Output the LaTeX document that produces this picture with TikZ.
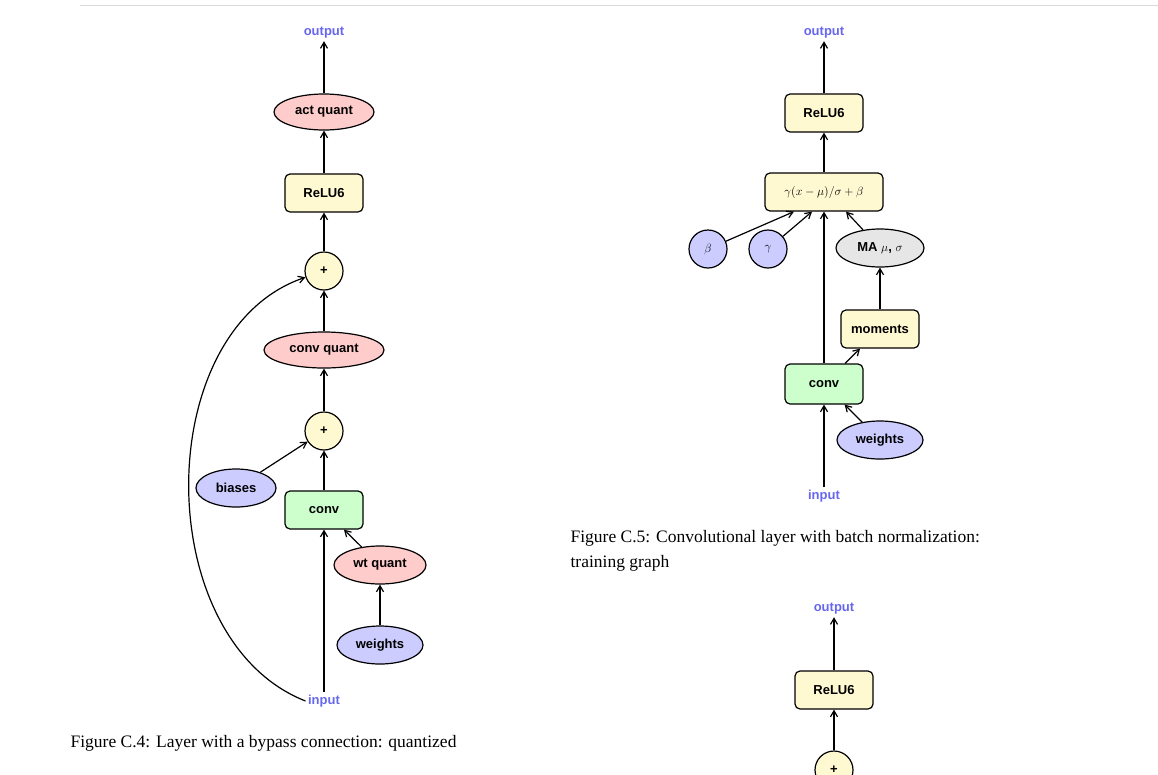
\documentclass[tikz,border=0pt]{standalone}
\usepackage{fontspec}
\setmainfont{Liberation Serif}
\newfontfamily\sansb{Liberation Sans}
\usetikzlibrary{shapes.geometric,arrows.meta}
\definecolor{cy}{HTML}{FFF9D2}
\definecolor{cr}{HTML}{FFCCCC}
\definecolor{cb}{HTML}{CCCCFF}
\definecolor{cg}{HTML}{CCFFCC}
\definecolor{cgr}{HTML}{E6E6E6}
\definecolor{lbl}{HTML}{6666EE}
\begin{document}
\begin{tikzpicture}[x=1pt,y=-1pt,
  every node/.style={font=\sansb\bfseries\fontsize{13}{15}\selectfont, line width=1.2pt},
  box/.style={draw,rounded corners=5pt,minimum width=78pt,minimum height=38pt,inner sep=2pt},
  ell/.style={draw,ellipse,minimum height=36pt,inner sep=1pt},
  circ/.style={draw,circle,fill=cy,minimum size=38pt,inner sep=0pt},
  cbl/.style={draw,circle,fill=cb,minimum size=38pt,inner sep=0pt},
  io/.style={text=lbl,inner sep=2pt},
  mth/.style={font=\fontsize{13}{15}\selectfont},
  ar/.style={-{Straight Barb[length=6pt,width=7pt]},line width=1.2pt},
  captxt/.style={font=\fontsize{17.5}{25}\selectfont,anchor=west,align=left,inner sep=0pt}]
\useasboundingbox (0,0) rectangle (1158,774);
\draw[gray!30,line width=1pt] (80,5) -- (1158,5);
% left
\node[io] (lo) at (324,33) {output};
\node[ell,fill=cr,minimum width=100pt] (laq) at (324,112) {act quant};
\node[box,fill=cy] (lr) at (324,193) {ReLU6};
\node[circ] (lp1) at (324,271) {+};
\node[ell,fill=cr,minimum width=120pt] (lcq) at (324,350) {conv quant};
\node[circ] (lp2) at (324,431) {+};
\node[ell,fill=cb,minimum width=80pt,minimum height=38pt] (lb) at (236,488) {biases};
\node[box,fill=cg] (lc) at (324,510) {conv};
\node[ell,fill=cr,minimum width=92pt,minimum height=38pt] (lwq) at (380,565) {wt quant};
\node[ell,fill=cb,minimum width=86pt,minimum height=38pt] (lw) at (380,645) {weights};
\node[io] (li) at (324,701) {input};
\draw[ar] (laq) -- (lo);
\draw[ar] (lr) -- (laq);
\draw[ar] (lp1) -- (lr);
\draw[ar] (lcq) -- (lp1);
\draw[ar] (lp2) -- (lcq);
\draw[ar] (lc) -- (lp2);
\draw[ar] (lb) -- (lp2);
\draw[ar] (lwq) -- (lc);
\draw[ar] (lw) -- (lwq);
\draw[ar] (li) -- (lc);
\draw[ar] (li.west) .. controls (150,640) and (150,330) .. (lp1);
\node[captxt] (c4) at (70,743) {Figure C.4: Layer with a bypass connection: quantized};
% right
\node[io] (ro) at (824,33) {output};
\node[box,fill=cy] (rr) at (824,113) {ReLU6};
\node[box,fill=cy,minimum width=118pt,mth] (rbn) at (824,192) {$\gamma(x-\mu)/\sigma+\beta$};
\node[cbl,mth] (rbe) at (708,249) {$\beta$};
\node[cbl,mth] (rga) at (768,249) {$\gamma$};
\node[ell,fill=cgr,minimum width=88pt,minimum height=38pt] (rma) at (880,248) {MA $\mu$, $\sigma$};
\node[box,fill=cy] (rm) at (880,329) {moments};
\node[box,fill=cg,minimum height=40pt] (rc) at (824,384) {conv};
\node[ell,fill=cb,minimum width=86pt,minimum height=38pt] (rw) at (880,440) {weights};
\node[io] (ri) at (824,496) {input};
\draw[ar] (rr) -- (ro);
\draw[ar] (rbn) -- (rr);
\draw[ar] (rbe) -- ([xshift=-30pt]rbn.south);
\draw[ar] (rga) -- ([xshift=-12pt]rbn.south);
\draw[ar] (rma) -- ([xshift=22pt]rbn.south);
\draw[ar] (rm) -- (rma);
\draw[ar] (rc) -- (rm);
\draw[ar] (rc) -- (rbn);
\draw[ar] (rw) -- (rc);
\draw[ar] (ri) -- (rc);
\node[captxt] (c5) at (570,551) {Figure C.5: Convolutional layer with batch normalization:\\training graph};
% bottom right
\node[io] (bo) at (834,609) {output};
\node[box,fill=cy] (br) at (834,690) {ReLU6};
\node[circ] (bp) at (834,770) {+};
\draw[ar] (br) -- (bo);
\draw[ar] (bp) -- (br);
\end{tikzpicture}
\end{document}
